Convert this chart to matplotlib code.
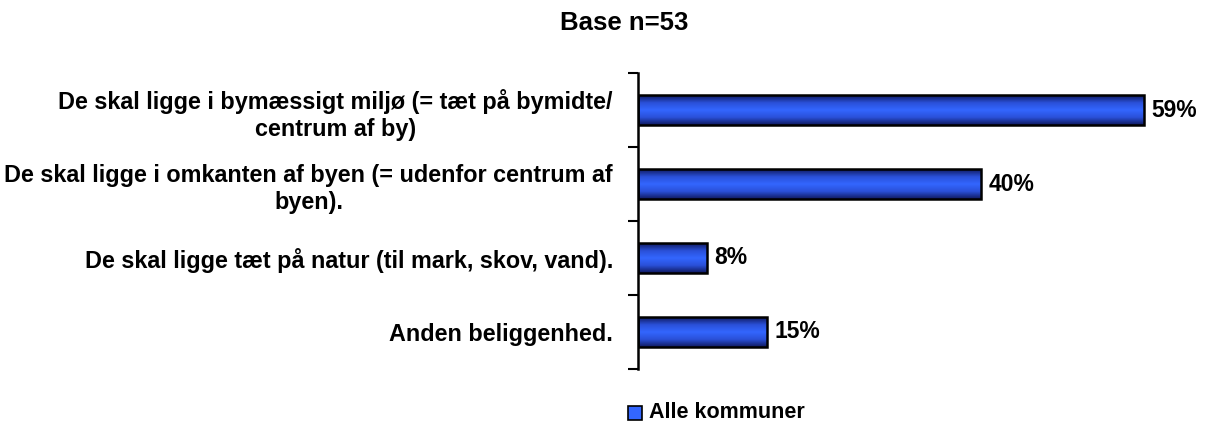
import numpy as np
import matplotlib
matplotlib.use("Agg")
import matplotlib.pyplot as plt
from matplotlib.colors import LinearSegmentedColormap

plt.rcParams['font.family'] = ['Liberation Sans', 'DejaVu Sans']
plt.rcParams['font.weight'] = 'bold'

categories = [
    "De skal ligge i bymæssigt miljø (= tæt på bymidte/\ncentrum af by)",
    "De skal ligge i omkanten af byen (= udenfor centrum af\nbyen).",
    "De skal ligge tæt på natur (til mark, skov, vand).",
    "Anden beliggenhed.",
]
values = [59, 40, 8, 15]
seriesName = "Alle kommuner"
title = "Base n=53"

fig = plt.figure(figsize=(12.1, 4.24), dpi=100)
ax = fig.add_axes([638 / 1210, 55 / 424, (1200 - 638) / 1210, (369 - 73) / 424])

grad = LinearSegmentedColormap.from_list(
    "bar", ["#101a60", "#2a50d8", "#3366ff", "#2a50d8", "#101a60"])
gradImg = np.linspace(0, 1, 64).reshape(-1, 1)

yPos = np.arange(len(categories))
barH = 0.4
for y, v in zip(yPos, values):
    ax.imshow(gradImg, cmap=grad, aspect='auto', interpolation='bilinear',
              extent=[0, v, y + barH / 2, y - barH / 2], zorder=2)
    ax.text(v + 0.9, y, f"{v}%", va='center', ha='left', fontsize=16.5, fontweight='bold')
ax.barh(yPos, values, height=barH, facecolor='none', edgecolor='black', linewidth=1.8, zorder=3)

ax.set_xlim(0, (1200 - 638) / ((1144 - 638) / 59))
ax.set_ylim(len(categories) - 0.5, -0.5)
ax.set_aspect('auto')

ax.set_yticks(yPos)
ax.set_yticklabels(categories, fontsize=16.8, fontweight='bold', multialignment='center', linespacing=1.25)
ax.tick_params(axis='y', which='major', length=0, pad=18)
ax.set_yticks(np.arange(-0.5, len(categories)), minor=True)
ax.tick_params(axis='y', which='minor', length=7, width=1.5, direction='out')
ax.set_xticks([])

for s in ['top', 'right', 'bottom']:
    ax.spines[s].set_visible(False)
ax.spines['left'].set_linewidth(1.8)

fig.text(624 / 1210, 1 - 23 / 424, title, ha='center', va='center', fontsize=18.5, fontweight='bold')

# legend
fig.patches.append(plt.Rectangle((628 / 1210, 1 - 420 / 424), 14 / 1210, 14 / 424,
                                 transform=fig.transFigure, facecolor='#3366ff',
                                 edgecolor='black', linewidth=1.2))
fig.text(649 / 1210, 1 - 413 / 424, seriesName, ha='left', va='center', fontsize=15.5, fontweight='bold')

fig.savefig("out.png", dpi=100)
